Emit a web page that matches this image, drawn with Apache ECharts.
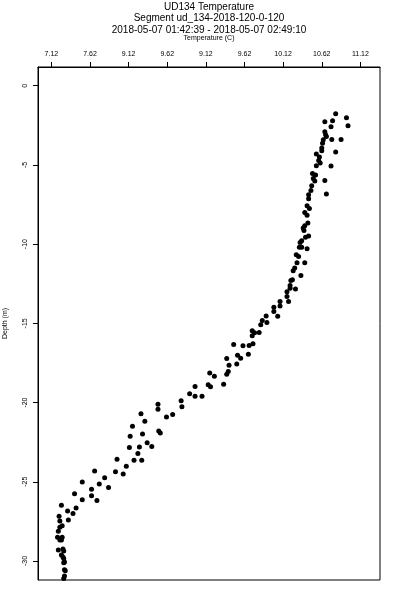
<!DOCTYPE html>
<html>
<head>
<meta charset="utf-8">
<script src="https://cdn.jsdelivr.net/npm/echarts@6/dist/echarts.min.js"></script>
<style>html,body{margin:0;padding:0;background:#fff}#c{width:400px;height:600px}</style>
</head>
<body>
<div id="c"></div>
<script>
var temperature = [10.80,10.94,10.76,10.66,10.96,10.74,10.66,10.67,10.68,10.64,10.75,10.87,10.63,10.62,10.62,10.80,10.55,10.59,10.58,10.60,10.55,10.74,10.50,10.54,10.51,10.66,10.53,10.49,10.48,10.68,10.45,10.45,10.43,10.46,10.40,10.43,10.44,10.40,10.38,10.39,10.45,10.41,10.36,10.34,10.33,10.36,10.43,10.29,10.32,10.30,10.40,10.27,10.25,10.35,10.24,10.22,10.21,10.21,10.28,10.17,10.17,10.19,10.08,10.08,10.00,10.00,9.90,10.05,9.85,9.91,9.83,9.72,9.81,9.75,9.72,9.73,9.48,9.68,9.60,9.67,9.53,9.57,9.39,9.52,9.42,9.41,9.17,9.39,9.23,9.35,9.15,9.18,8.98,8.91,8.98,9.07,8.80,8.50,8.81,8.50,8.28,8.69,8.61,8.33,8.17,8.51,8.53,8.30,8.14,8.36,8.42,8.26,8.13,8.24,7.97,8.19,8.29,8.09,7.68,7.95,8.05,7.81,7.52,7.74,7.86,7.64,7.42,7.64,7.52,7.71,7.25,7.44,7.33,7.40,7.22,7.34,7.23,7.26,7.23,7.21,7.20,7.26,7.23,7.25,7.21,7.27,7.28,7.25,7.27,7.28,7.28,7.29,7.29,7.30,7.29,7.28];
var depth = [-1.77,-2.02,-2.21,-2.27,-2.53,-2.59,-2.91,-3.09,-3.20,-3.41,-3.39,-3.39,-3.64,-3.93,-4.11,-4.19,-4.31,-4.50,-4.72,-4.88,-5.05,-5.07,-5.54,-5.64,-5.85,-5.98,-6.02,-6.32,-6.61,-6.84,-6.88,-7.14,-7.58,-7.75,-8.00,-8.17,-8.67,-8.84,-8.99,-9.14,-9.49,-9.56,-9.79,-9.90,-10.19,-10.19,-10.29,-10.67,-10.78,-11.18,-11.18,-11.51,-11.68,-11.98,-12.25,-12.30,-12.61,-12.78,-12.84,-13.01,-13.31,-13.62,-13.62,-13.91,-13.98,-14.25,-14.53,-14.55,-14.82,-14.95,-15.09,-15.47,-15.58,-15.60,-15.79,-16.29,-16.34,-16.40,-16.42,-16.95,-17.01,-17.20,-17.22,-17.56,-17.64,-18.04,-18.13,-18.21,-18.34,-18.84,-18.88,-19.01,-18.99,-19.45,-19.60,-19.60,-19.88,-20.10,-20.27,-20.42,-20.70,-20.76,-20.91,-21.18,-21.49,-21.79,-21.92,-21.98,-22.12,-22.53,-22.78,-22.80,-22.84,-23.22,-23.58,-23.64,-23.64,-24.02,-24.32,-24.36,-24.51,-24.74,-25.01,-25.14,-25.36,-25.47,-25.75,-25.88,-26.14,-26.18,-26.48,-26.65,-26.85,-27.01,-27.18,-27.42,-27.47,-27.78,-27.87,-28.12,-28.50,-28.50,-28.67,-28.67,-29.31,-29.24,-29.37,-29.62,-29.75,-29.85,-30.11,-30.06,-30.55,-30.61,-30.95,-31.11];
var xTickValues = [7.12,7.62,8.12,8.62,9.12,9.62,10.12,10.62,11.12];
var xTickLabels = ["7.12","7.62","9.12","9.62","9.12","9.62","10.12","10.62","11.12"];
var yTickValues = [0,-5,-10,-15,-20,-25,-30];
var titleLines = ["UD134 Temperature","Segment ud_134-2018-120-0-120","2018-05-07 01:42:39 - 2018-05-07 02:49:10"];
var xName = "Temperature (C)";
var yName = "Depth (m)";

var pts = temperature.map(function(t,i){return [t, depth[i]];});
var FONT = "Liberation Sans";
var chart = echarts.init(document.getElementById('c'), null, {renderer:'canvas'});
chart.setOption({
  animation:false,
  backgroundColor:'#fff',
  title:{
    text: titleLines.join('\n'),
    left: 209, top: 1, padding:0, textAlign:'center',
    textStyle:{fontFamily:FONT,fontSize:10,fontWeight:'normal',color:'#000',lineHeight:11.5}
  },
  grid:{left:38,top:67,width:342,height:513,containLabel:false,outerBoundsMode:'none',show:true,borderColor:'#000',borderWidth:1,backgroundColor:'transparent'},
  xAxis:{
    type:'value', position:'top', min:6.947, max:11.374,
    name:xName, nameLocation:'middle', nameGap:25,
    nameTextStyle:{fontFamily:FONT,fontSize:7,color:'#000'},
    axisLine:{show:true,onZero:false,lineStyle:{color:'#000',width:1}},
    axisTick:{show:true,length:5,customValues:xTickValues,lineStyle:{color:'#000'}},
    axisLabel:{show:true,customValues:xTickValues,margin:9,fontFamily:FONT,fontSize:7,color:'#000',
      formatter:function(v){for(var i=0;i<xTickValues.length;i++){if(Math.abs(xTickValues[i]-v)<1e-6)return xTickLabels[i];}return '';}},
    splitLine:{show:false}
  },
  yAxis:{
    type:'value', min:-31.2, max:1.18,
    name:yName, nameLocation:'middle', nameGap:29,
    nameTextStyle:{fontFamily:FONT,fontSize:7,color:'#000'},
    axisLine:{show:true,onZero:false,lineStyle:{color:'#000',width:1}},
    axisTick:{show:true,length:5,customValues:yTickValues,lineStyle:{color:'#000'}},
    axisLabel:{show:true,customValues:yTickValues,rotate:90,margin:9,fontFamily:FONT,fontSize:7,color:'#000'},
    splitLine:{show:false}
  },
  series:[{
    type:'scatter', data:pts, symbol:'circle', symbolSize:5,
    itemStyle:{color:'#000',opacity:1}, clip:true
  }]
});
</script>
</body>
</html>
